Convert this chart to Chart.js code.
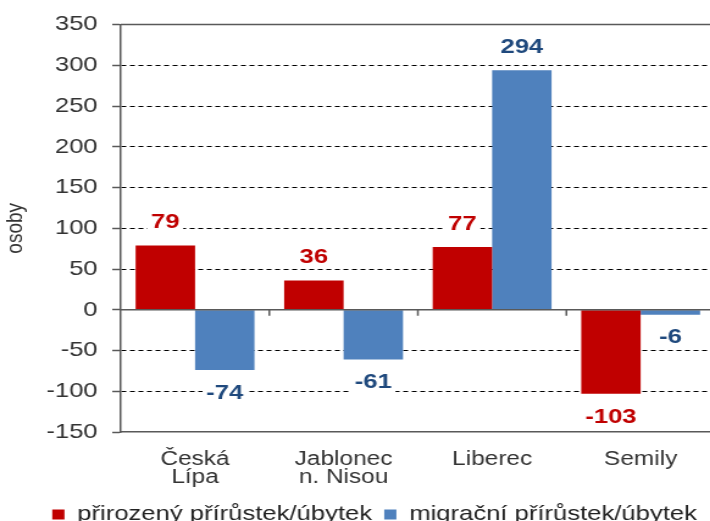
<!DOCTYPE html>
<html>
<head>
<meta charset="utf-8">
<script src="https://cdn.jsdelivr.net/npm/chart.js@4"></script>
<style>
  html, body { margin: 0; padding: 0; background: #fff; overflow: hidden; }
  /* originál je vodorovně roztažený, proto scaleX */
  #obal { width: 614px; height: 535px; transform: scaleX(1.22); transform-origin: 0 0; }
</style>
</head>
<body>
<div id="obal"><canvas id="graf" width="614" height="535"></canvas></div>
<script>
const okresy = [["Česká", "Lípa"], ["Jablonec", "n. Nisou"], "Liberec", "Semily"];
const prirozeny = [79, 36, 77, -103];
const migracni = [-74, -61, 294, -6];
const osaMin = -150;
const osaMax = 350;
const osaKrok = 50;

Chart.defaults.font.family = "'Liberation Sans', Arial, sans-serif";

// hodnoty nad/pod sloupci + nulova cara a horni okraj
const popisky = {
  id: "popisky",
  afterDatasetsDraw(chart) {
    const ctx = chart.ctx;
    const sx = chart.scales.x;
    const sy = chart.scales.y;
    const area = chart.chartArea;
    ctx.save();
    ctx.strokeStyle = "#595959";
    ctx.lineWidth = 1.5;
    ctx.beginPath();
    const y0 = sy.getPixelForValue(0);
    ctx.moveTo(area.left, y0);
    ctx.lineTo(area.right, y0);
    ctx.moveTo(area.left, area.top);
    ctx.lineTo(area.right, area.top);
    for (let i = 1; i < okresy.length; i++) {
      const xm = (sx.getPixelForTick(i - 1) + sx.getPixelForTick(i)) / 2;
      ctx.moveTo(xm, y0);
      ctx.lineTo(xm, y0 + 6);
    }
    ctx.stroke();

    ctx.font = "bold 21px 'Liberation Sans', Arial, sans-serif";
    ctx.textAlign = "center";
    ctx.textBaseline = "middle";
    chart.data.datasets.forEach((ds, di) => {
      chart.getDatasetMeta(di).data.forEach((bar, i) => {
        const v = ds.data[i];
        const ty = v >= 0 ? bar.y - 23 : bar.y + 23;
        const txt = String(v);
        const w = ctx.measureText(txt).width;
        ctx.fillStyle = "#fff";
        ctx.fillRect(bar.x - w / 2 - 3, ty - 11, w + 6, 22);
        ctx.fillStyle = ds.barvaPopisku;
        ctx.fillText(txt, bar.x, ty);
      });
    });
    ctx.restore();
  }
};

new Chart(document.getElementById("graf"), {
  type: "bar",
  data: {
    labels: okresy,
    datasets: [
      {
        label: "přirozený přírůstek/úbytek",
        data: prirozeny,
        backgroundColor: "#C00000",
        barvaPopisku: "#C00000",
        borderWidth: 0,
        categoryPercentage: 0.8,
        barPercentage: 1.0
      },
      {
        label: "migrační přírůstek/úbytek",
        data: migracni,
        backgroundColor: "#4F81BD",
        barvaPopisku: "#1F497D",
        borderWidth: 0,
        categoryPercentage: 0.8,
        barPercentage: 1.0
      }
    ]
  },
  options: {
    responsive: false,
    animation: false,
    devicePixelRatio: 1,
    layout: { padding: { top: 12, bottom: 0, left: 0, right: 0 } },
    scales: {
      x: {
        afterFit(s) { s.height = 62; },
        grid: { display: false, drawTicks: false },
        border: { display: true, color: "#595959", width: 1.5 },
        ticks: {
          color: "#333",
          font: { size: 20, lineHeight: 0.92 },
          padding: 18,
          maxRotation: 0,
          autoSkip: false
        }
      },
      y: {
        min: osaMin,
        max: osaMax,
        afterFit(s) { s.width = 99; },
        ticks: { stepSize: osaKrok, padding: 12, color: "#333", font: { size: 21 } },
        grid: {
          color: (c) => (c.tick && (c.tick.value === osaMax || c.tick.value === osaMin || c.tick.value === 0)) ? "rgba(0,0,0,0)" : "#000",
          lineWidth: 1,
          tickLength: 7,
          tickColor: "#595959",
          tickWidth: 1.5
        },
        border: { display: true, color: "#595959", width: 1.5, dash: [4, 3] },
        title: {
          display: true,
          text: "osoby",
          color: "#333",
          font: { size: 19 },
          padding: { top: 1, bottom: 0 }
        }
      },
      y2: {
        position: "right",
        display: true,
        grid: { display: false, drawTicks: false },
        ticks: { display: false },
        border: { display: false },
        afterFit(s) { s.width = 28; }
      }
    },
    plugins: {
      legend: {
        position: "bottom",
        labels: {
          color: "#222",
          font: { size: 21 },
          boxWidth: 10,
          boxHeight: 10,
          padding: 10
        }
      },
      tooltip: { enabled: false }
    }
  },
  plugins: [popisky]
});
</script>
</body>
</html>
